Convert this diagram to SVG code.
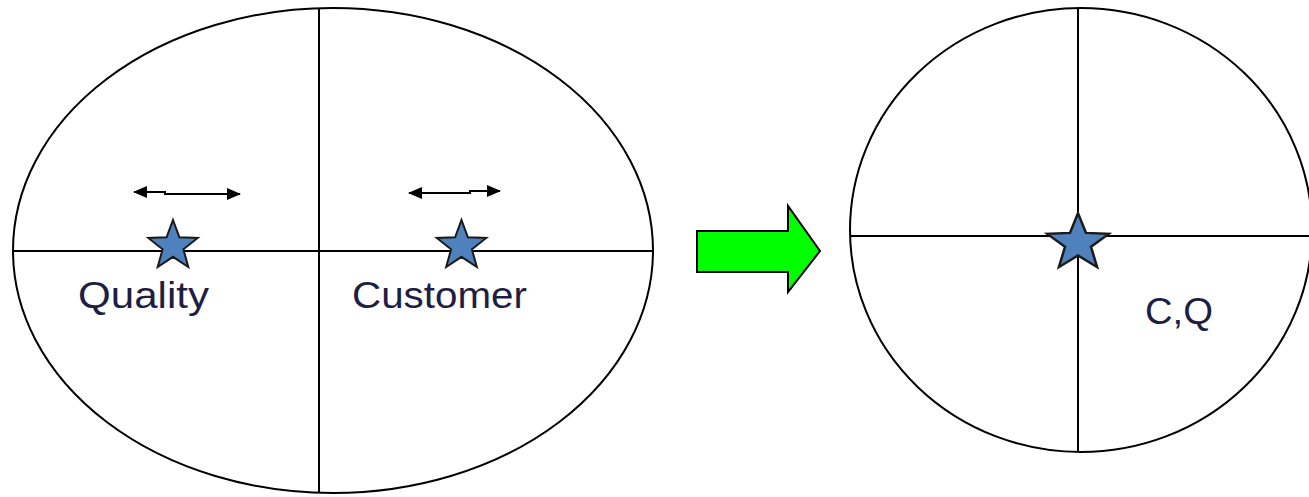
<svg xmlns="http://www.w3.org/2000/svg" width="1309" height="497" viewBox="0 0 1309 497">
<defs>
<style>
.ln{stroke:#000;stroke-width:2;fill:none}
.star{fill:#4f81bd;stroke:#1a1a1a;stroke-width:2;stroke-linejoin:miter}
.lbl{font-family:"Liberation Sans",Arial,sans-serif;font-size:37px;fill:#1e1e44}
</style>
<marker id="ah" viewBox="0 0 14 12" refX="13" refY="6" markerWidth="14" markerHeight="12" markerUnits="userSpaceOnUse" orient="auto-start-reverse">
<path d="M0,0 L14,6 L0,12 z" fill="#000"/>
</marker>
<polygon id="st" points="0,-26 6.4,-8.7 24.7,-8 10.4,3.3 15.3,21 0,10.8 -15.3,21 -10.4,3.3 -24.7,-8 -6.4,-8.7"/>
</defs>
<rect width="1309" height="497" fill="#fff"/>
<g id="left-ellipse">
<ellipse class="ln" cx="333" cy="250.5" rx="320" ry="242.5"/>
<line class="ln" x1="319" y1="8" x2="319" y2="493"/>
<line class="ln" x1="13" y1="251" x2="653" y2="251"/>
</g>
<g id="right-ellipse">
<ellipse class="ln" cx="1081" cy="230" rx="231" ry="222"/>
<line class="ln" x1="1078" y1="8" x2="1078" y2="452"/>
<line class="ln" x1="850" y1="236" x2="1309" y2="236"/>
</g>
<g id="quality">
<use href="#st" class="star" x="173" y="246"/>
<text class="lbl" x="78" y="308" textLength="131" lengthAdjust="spacingAndGlyphs">Quality</text>
</g>
<g id="customer">
<use href="#st" class="star" x="461.5" y="246"/>
<text class="lbl" x="352" y="308" textLength="175" lengthAdjust="spacingAndGlyphs">Customer</text>
</g>
<g id="cq">
<use href="#st" class="star" transform="translate(1078,243) scale(1.25,1.15)"/>
<text class="lbl" x="1145" y="324" textLength="68" lengthAdjust="spacingAndGlyphs">C,Q</text>
</g>
<g id="connectors">
<polyline class="ln" points="134,192 165,192 165,194 240,194" marker-start="url(#ah)" marker-end="url(#ah)" stroke-width="1.8"/>
<polyline class="ln" points="409,193 470,193 470,191 500,191" marker-start="url(#ah)" marker-end="url(#ah)" stroke-width="1.8"/>
<polygon id="green-arrow" points="697,231 788,231 788,206 820,251 788,292 788,272 697,272" fill="#00ff00" stroke="#000" stroke-width="2"/>
</g>
</svg>
